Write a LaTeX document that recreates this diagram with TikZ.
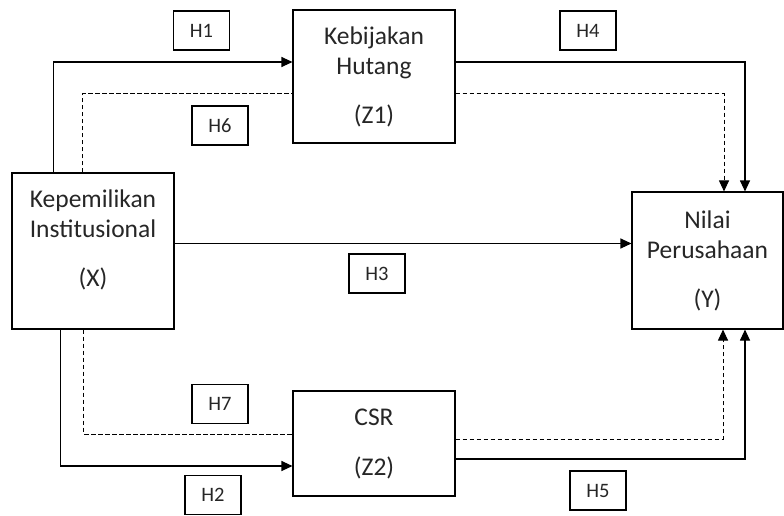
\documentclass[tikz,border=0pt]{standalone}
\usepackage{fontspec}
\setmainfont{Carlito}
\usetikzlibrary{positioning, arrows.meta}
\tikzset{
	x=1pt, y=-1pt, % work in pixels of the reference, y pointing down
	varbox/.style={draw, line width=1.1pt, align=center, font=\fontsize{25.5}{30}\selectfont, text=black!85, inner sep=0pt}, % variable boxes
	hypbox/.style={draw, line width=1.1pt, minimum width=56pt, minimum height=39pt, font=\fontsize{20.5}{22}\selectfont, text=black!85, inner sep=0pt}, % hypothesis labels
	link/.style={line width=1.1pt, -{Triangle[length=11pt,width=10pt]}}, % direct effect
	medlink/.style={line width=1pt, dash pattern=on 4.5pt off 2.5pt}, % mediated effect
}

\begin{document}
\begin{tikzpicture}
		\useasboundingbox (0,0) rectangle (784,516);
		% variables
		\node[varbox, minimum width=162pt, minimum height=156pt] (X) at (93,251) {Kepemilikan\\Institusional\\[19pt](X)\rule[-26pt]{0pt}{1pt}};
		\node[varbox, minimum width=162pt, minimum height=133pt] (Z1) at (374,76.5) {Kebijakan\\Hutang\\[19pt](Z1)};
		\node[varbox, minimum width=162pt, minimum height=105pt] (Z2) at (374,443.5) {CSR\\[20pt](Z2)};
		\node[varbox, minimum width=151pt, minimum height=137pt] (Y) at (707.5,260.5) {Nilai\\Perusahaan\\[19pt](Y)};
		
		% hypotheses
		\node[hypbox] (H1) at (201.5,30.5) {H1};
		\node[hypbox] (H4) at (588,30.5) {H4};
		\node[hypbox] (H6) at (220,125.5) {H6};
		\node[hypbox] (H3) at (377,273.5) {H3};
		\node[hypbox] (H7) at (220,404) {H7};
		\node[hypbox] (H2) at (213,495) {H2};
		\node[hypbox] (H5) at (598,490.5) {H5};
		
		% direct paths
		\draw[link] ([xshift=42pt]X.north west) |- ([yshift=14.5pt]Z1.west);
		\draw[link] ([yshift=14.5pt]Z1.east) -| ([xshift=37.5pt]Y.north);
		\draw[link] ([yshift=7.5pt]X.east) -- ([yshift=7.5pt]X.east -| Y.west);
		\draw[link] ([xshift=49pt]X.south west) |- ([yshift=-22.5pt]Z2.west);
		\draw[link] ([yshift=-15.5pt]Z2.east) -| ([xshift=37.5pt]Y.south);
		
		% mediated paths
		\draw[medlink] ([xshift=71pt]X.north west) |- ([yshift=-17.5pt]Z1.west);
		\draw[medlink, -{Triangle[length=11pt,width=10pt]}] ([yshift=-17.5pt]Z1.east) -| ([xshift=16.5pt]Y.north);
		\draw[medlink] ([xshift=72pt]X.south west) |- ([yshift=9.5pt]Z2.west);
		\draw[medlink, -{Triangle[length=11pt,width=10pt]}] ([yshift=4.5pt]Z2.east) -| ([xshift=15.5pt]Y.south);
		\end{tikzpicture}
\end{document}
